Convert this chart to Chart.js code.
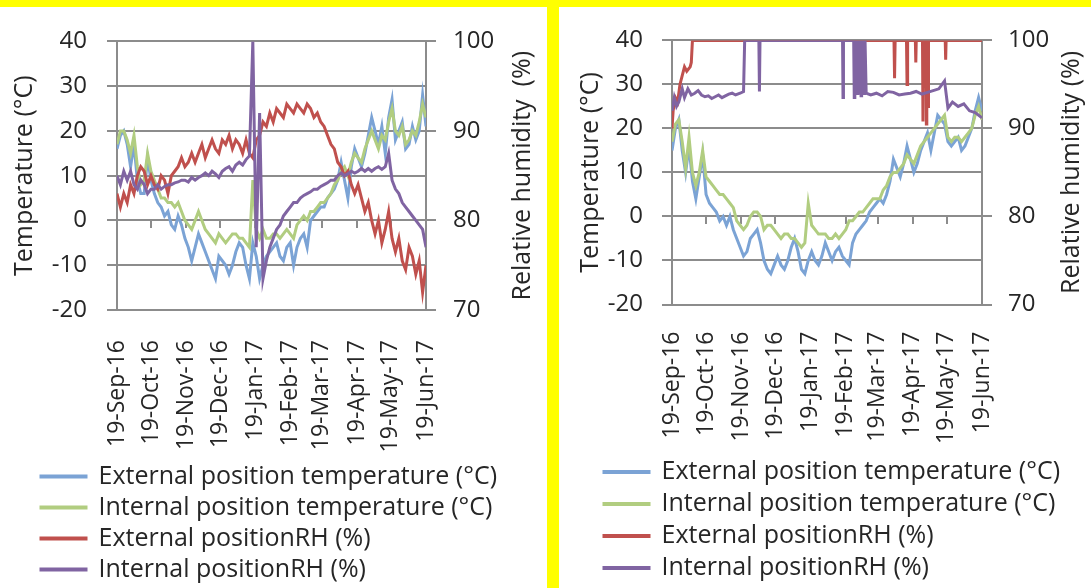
<!DOCTYPE html>
<html>
<head>
<meta charset="utf-8">
<script src="https://cdn.jsdelivr.net/npm/chart.js@4/dist/chart.umd.min.js"></script>
<style>
  body { margin: 0; background: #ffffff; }
  #topBar { position: absolute; left: 0; top: 0; width: 1091px; height: 7px; background: #ffff00; }
  #midBar { position: absolute; left: 547px; top: 0; width: 12px; height: 588px; background: #ffff00; }
  #chart1 { position: absolute; left: 0; top: 7px; }
  #chart2 { position: absolute; left: 559px; top: 7px; }
</style>
</head>
<body>
<div id="topBar"></div>
<div id="midBar"></div>
<canvas id="chart1" width="547" height="581"></canvas>
<canvas id="chart2" width="532" height="581"></canvas>
<script>
// days since 19-Sep-16 and the month labels on the x axis
const tickDays = [0, 30, 61, 91, 122, 153, 181, 212, 242, 273];
const tickLabels = ['19-Sep-16', '19-Oct-16', '19-Nov-16', '19-Dec-16', '19-Jan-17',
  '19-Feb-17', '19-Mar-17', '19-Apr-17', '19-May-17', '19-Jun-17'];

const seriesNames = ['External position temperature (°C)', 'Internal position temperature (°C)',
  'External positionRH (%)', 'Internal positionRH (%)'];

// sample days (every 3 days) used by the temperature series and the left RH series
const days = [0, 3, 6, 9, 12, 15, 18, 21, 24, 27, 30, 33, 36, 39, 42, 45, 48, 51, 54, 57,
  60, 63, 66, 69, 72, 75, 78, 81, 84, 87, 90, 93, 96, 99, 102, 105, 108, 111, 114, 117,
  120, 123, 126, 129, 132, 135, 138, 141, 144, 147, 150, 153, 156, 159, 162, 165, 168, 171, 174, 177,
  180, 183, 186, 189, 192, 195, 198, 201, 204, 207, 210, 213, 216, 219, 222, 225, 228, 231, 234, 237,
  240, 243, 246, 249, 252, 255, 258, 261, 264, 267, 270, 273];

// left chart
const extTempL = [16, 19, 20, 17, 12, 17, 9, 6, 6, 14, 9, 6, 4, 3, 1, 2, -1, -2, 1, -1,
  -4, -6, -9, -6, -3, -5, -7, -9, -11, -13, -8, -9, -10, -12, -10, -7, -5, -6, -10, -13,
  -5, -8, -13, -10, -8, -7, -6, -5, -8, -9, -6, -5, -10, -6, -4, -3, -6, 0, 1, 2,
  3, 3, 5, 6, 7, 9, 13, 9, 5, 12, 16, 14, 12, 15, 19, 23, 20, 17, 21, 15,
  23, 27, 18, 20, 22, 16, 17, 21, 18, 20, 28, 21];
const intTempL = [17, 20, 20, 18, 15, 19, 12, 8, 9, 15, 11, 9, 7, 5, 5, 4, 4, 3, 4, 2,
  0, -1, -2, 0, 2, 0, -2, -3, -4, -5, -3, -4, -5, -4, -3, -3, -4, -4, -5, -6,
  9, -2, -4, -2, -4, -4, -3, -3, -4, -3, -2, -3, -4, -1, 0, 1, 0, 2, 2, 3,
  4, 4, 5, 6, 8, 9, 11, 12, 10, 13, 15, 14, 13, 16, 18, 20, 18, 16, 19, 18,
  22, 25, 20, 19, 21, 17, 18, 20, 19, 22, 26, 23];
const extRhL = [83, 81.5, 83, 82, 84, 83, 85, 86, 85.5, 84, 85, 84, 83.5, 85, 84.5, 83, 85, 85.5, 86, 87,
  86, 86.5, 87.5, 86.5, 87.5, 88.5, 87, 88, 89, 88, 87.5, 89, 88.5, 89.5, 88, 89, 88.5, 87.5, 89, 87.5,
  87, 89, 89.5, 91, 90.5, 92, 91, 92.5, 92, 91.5, 93, 92.5, 92, 93, 92.5, 92, 93, 92.5, 91.5, 92,
  91, 90.5, 89.5, 88.5, 88, 86.5, 86, 85, 85.5, 84, 83, 84, 82.5, 81, 82, 80, 78.5, 80, 77.5, 79,
  81, 78, 76.5, 78, 75.5, 74.5, 77, 76, 74, 75.5, 72, 75];
const intRhL = [85, 84, 85.5, 84.5, 85.5, 84, 83.5, 84.5, 84, 83, 83.5, 83.5, 84, 83.5, 83.8, 84, 84, 84.2, 84.3, 84.5,
  84.5, 84.3, 84.8, 84.5, 84.8, 85, 85.3, 85, 85.5, 85.2, 84.8, 85.5, 85.8, 86, 85.5, 86.2, 86.5, 86.2, 86.8, 87.2,
  100, 77, 92, 73.5, 75.5, 77, 78, 79, 79.5, 80.5, 81, 81.5, 82, 82, 82.5, 82.8, 83, 83.2, 83.5, 83.5,
  83.8, 84, 84.2, 84.5, 84.5, 85, 85.3, 85, 85.2, 85.5, 85.3, 85.5, 85.8, 85.5, 85.8, 85.5, 85.8, 86, 85.7, 86,
  87.5, 84.5, 83.5, 83, 82, 81.5, 81, 80.5, 80, 79.5, 79, 77];

// right chart
const extTempR = [15, 20, 22, 15, 10, 16, 8, 4, 9, 14, 5, 3, 2, 1, -1, 0, -2, 0, -3, -5,
  -7, -9, -8, -5, -4, -3, -6, -10, -12, -13, -11, -9, -11, -12, -10, -7, -5, -8, -12, -13,
  -10, -8, -10, -11, -9, -6, -8, -10, -8, -7, -9, -10, -11, -6, -4, -3, -2, -1, 1, 2,
  3, 4, 3, 5, 8, 13, 11, 9, 12, 16, 13, 10, 12, 15, 17, 19, 15, 19, 23, 22,
  21, 17, 16, 17, 18, 15, 16, 18, 20, 24, 27, 24];
const intTempR = [17, 21, 22, 17, 11, 18, 10, 7, 10, 15, 9, 8, 7, 6, 5, 5, 4, 3, 2, -1,
  -2, -3, -2, 0, 1, 1, 0, -3, -2, -2, -3, -4, -5, -4, -4, -5, -5, -6, -7, -6,
  3, -2, -3, -4, -4, -4, -5, -5, -4, -5, -4, -3, -1, -1, 0, 1, 1, 2, 3, 4,
  4, 4, 6, 7, 9, 10, 10, 11, 12, 14, 13, 12, 14, 16, 17, 18, 19, 20, 21, 22,
  23, 18, 17, 18, 18, 17, 18, 19, 20, 23, 25, 22];
const extRhRDays = [0, 1, 3, 5, 7, 9, 11, 13, 16, 17, 18, 195.5, 196, 196.5, 206.5, 207, 207.5,
  214.3, 214.7, 215.1, 220.6, 221, 221.4, 223.6, 224, 224.4, 225.1, 225.5, 225.9, 240.6, 241, 241.4, 273];
const extRhR = [90, 92, 93.5, 93, 95, 96, 97, 96.5, 97, 97.5, 100, 100, 95.7, 100, 100, 95, 100,
  100, 97.5, 100, 100, 90.8, 100, 100, 90.5, 100, 100, 92.5, 100, 100, 97.8, 100, 100];
const intRhRDays = [0, 2, 4, 6, 9, 11, 14, 17, 20, 23, 26, 29, 32, 35, 38, 41, 44, 47, 50, 53, 56, 60, 63,
  64, 76.5, 77, 77.5, 150.2, 150.6, 151, 160, 160.5, 161, 162, 162.5, 163.5, 164, 165, 165.5, 166.5,
  167, 168, 168.5, 169.5, 170, 171, 175, 180, 185, 190, 195, 200, 205, 210, 215, 220, 225, 230, 235,
  240, 243, 247, 252, 257, 262, 267, 273];
const intRhR = [92, 93.5, 92.5, 93, 94.5, 93.5, 94.5, 93.8, 94, 94.3, 93.8, 93.6, 93.7, 93.4, 93.6, 93.8, 93.5, 93.7, 93.9, 94, 93.8, 94, 94.2,
  100, 100, 94.2, 100, 100, 93.5, 100, 100, 93.5, 100, 94, 100, 93.8, 100, 94, 100, 93.7,
  100, 94, 100, 93.8, 100, 94, 93.8, 94, 93.7, 94.2, 94.1, 93.8, 93.9, 94, 94.2, 93.9, 94.1, 94.3, 94.5,
  95.4, 92.3, 93, 92.5, 92.8, 92, 91.8, 91.2];

const colors = ['#7ba3d5', '#b1cd80', '#c0504d', '#8064a2'];
const gridColor = '#8c8c8c';

Chart.defaults.font.family = '"Open Sans", sans-serif';
Chart.defaults.color = '#262626';

function points(x, y) {
  return x.map(function (d, i) { return { x: d, y: y[i] }; });
}

function monthTicks(axis) {
  axis.ticks = tickDays.map(function (d) { return { value: d }; });
}

// right axis title, read bottom to top like the left one
const rightTitle = {
  id: 'rightTitle',
  afterDraw(chart, args, opts) {
    const sc = chart.scales.y2;
    const ctx = chart.ctx;
    ctx.save();
    ctx.translate(sc.left + opts.offset, (sc.top + sc.bottom) / 2);
    ctx.rotate(-Math.PI / 2);
    ctx.font = '25px "Open Sans"';
    ctx.fillStyle = '#262626';
    ctx.textAlign = 'center';
    ctx.textBaseline = 'middle';
    ctx.fillText(opts.text, 0, 0);
    ctx.restore();
  }
};

function makeChart(id, series, lay) {
  const datasets = series.map(function (s, i) {
    return {
      label: seriesNames[i],
      data: points(s.x, s.y),
      yAxisID: i < 2 ? 'y' : 'y2',
      borderColor: colors[i],
      backgroundColor: colors[i],
      borderWidth: 3,
      pointRadius: 0,
      tension: 0,
      order: 4 - i
    };
  });

  return new Chart(document.getElementById(id), {
    type: 'line',
    data: { datasets: datasets },
    plugins: [rightTitle],
    options: {
      responsive: false,
      animation: false,
      layout: { padding: lay.padding },
      scales: {
        x: {
          type: 'linear', min: 0, max: 273,
          afterBuildTicks: monthTicks,
          afterFit: function (s) { s.height = 148; },
          grid: { display: false },
          border: { display: false },
          ticks: {
            autoSkip: false, minRotation: 90, maxRotation: 90, padding: lay.xPad,
            font: { size: 23 },
            callback: function (v) { return tickLabels[tickDays.indexOf(v)]; }
          }
        },
        // tick marks along the zero line
        xz: {
          type: 'linear', axis: 'x', position: { y: 0 }, min: 0, max: 273,
          afterBuildTicks: monthTicks,
          grid: { drawOnChartArea: false, color: gridColor, lineWidth: 2, tickLength: 8 },
          border: { display: false },
          ticks: { display: false }
        },
        y: {
          position: 'left', min: -20, max: 40,
          afterFit: function (s) { s.width = lay.yWidth; },
          ticks: { stepSize: 10, padding: lay.yPad, font: { size: 24 } },
          grid: { color: gridColor, lineWidth: 2, tickLength: 10 },
          border: { color: gridColor, width: 2 },
          title: { display: true, text: 'Temperature (°C)', font: { size: 25 }, padding: { top: lay.titlePad, bottom: 0 } }
        },
        y2: {
          position: 'right', min: 70, max: 100,
          afterFit: function (s) { s.width = lay.y2Width; },
          ticks: { stepSize: 10, padding: lay.y2Pad, font: { size: 24 } },
          grid: { drawOnChartArea: false, color: gridColor, lineWidth: 2, tickLength: 10 },
          border: { color: gridColor, width: 2 }
        }
      },
      plugins: {
        tooltip: { enabled: false },
        rightTitle: { text: lay.rightText, offset: lay.rightOffset },
        legend: {
          position: 'bottom',
          align: 'start',
          labels: {
            boxWidth: 45, boxHeight: 1, padding: lay.legendPad,
            font: { size: 25 },
            sort: function (a, b) { return a.datasetIndex - b.datasetIndex; }
          }
        }
      }
    }
  });
}

makeChart('chart1', [
  { x: days, y: extTempL },
  { x: days, y: intTempL },
  { x: days, y: extRhL },
  { x: days, y: intRhL }
], {
  padding: { left: 35, right: 0, top: 34, bottom: -4 },
  yWidth: 82, y2Width: 121, yPad: 20, y2Pad: 17, xPad: 22, titlePad: -25,
  legendPad: 6, rightText: 'Relative humidity  (%)', rightOffset: 97
});

makeChart('chart2', [
  { x: days, y: extTempR },
  { x: days, y: intTempR },
  { x: extRhRDays, y: extRhR },
  { x: intRhRDays, y: intRhR }
], {
  padding: { left: 38, right: 0, top: 32, bottom: -2.5 },
  yWidth: 75, y2Width: 109, yPad: 19, y2Pad: 16, xPad: 19, titlePad: -21,
  legendPad: 7, rightText: 'Relative humidity (%)', rightOffset: 90
});
</script>
</body>
</html>
